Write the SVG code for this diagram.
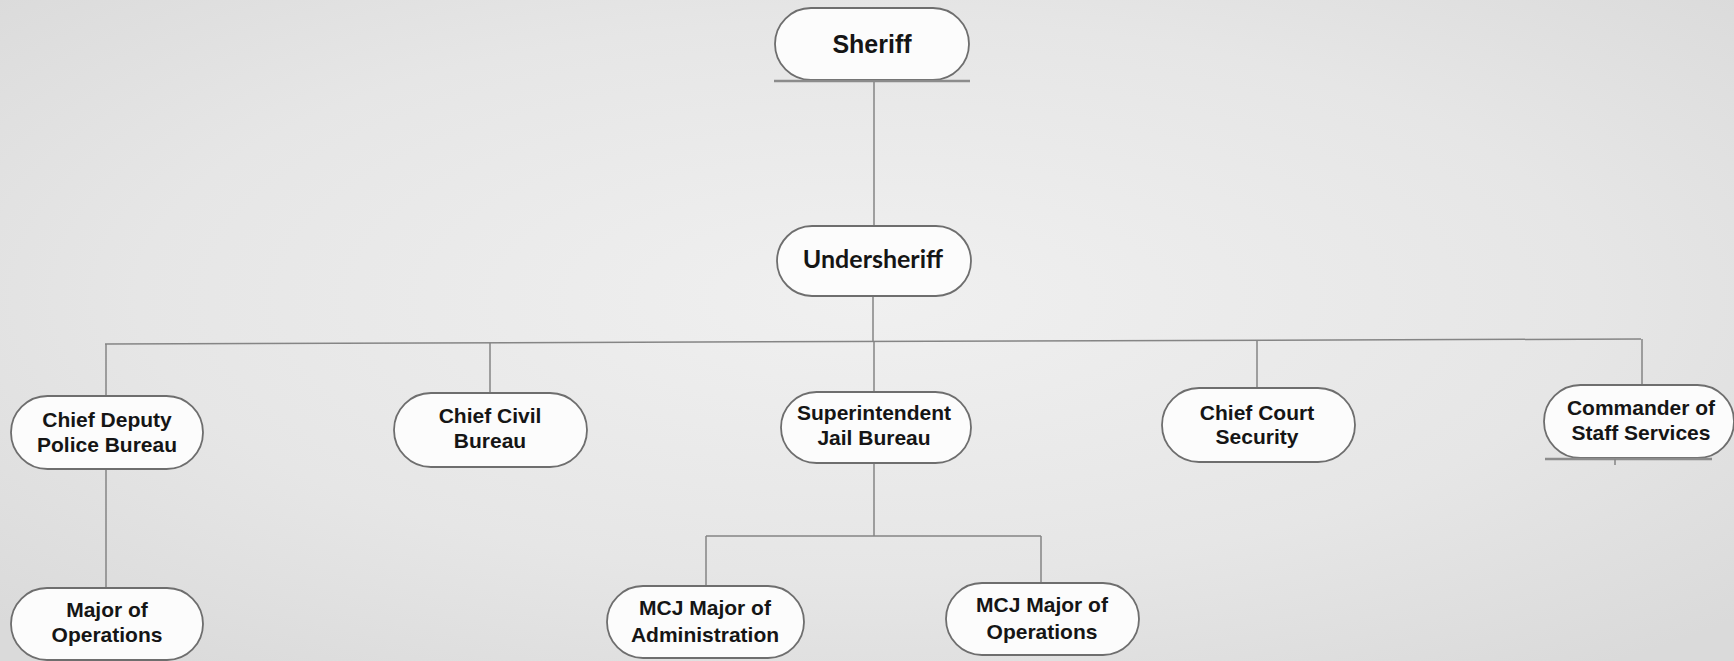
<svg xmlns="http://www.w3.org/2000/svg" width="1734" height="661" viewBox="0 0 1734 661">
<defs>
<radialGradient id="bg" cx="50%" cy="45%" r="70%">
<stop offset="0" stop-color="#f0f0f0"/>
<stop offset="0.6" stop-color="#e6e6e6"/>
<stop offset="1" stop-color="#dadada"/>
</radialGradient>
<style>
.node{fill:#fcfcfc;stroke:#6e6e6e;stroke-width:1.8}
.t{font-family:"Liberation Sans",Arial,sans-serif;font-weight:bold;font-size:21px;fill:#151515;text-anchor:middle}
.tc{font-family:Lato,"Open Sans",sans-serif;font-weight:bold;font-size:25px;fill:#151515;text-anchor:middle}
.ln{stroke:#858585;stroke-width:1.5;fill:none}
.ul{stroke:#8c8c8c;stroke-width:2.5;fill:none}
</style>
</defs>
<rect width="1734" height="661" fill="url(#bg)"/>
<g id="connectors">
<path class="ln" d="M874 81 V226"/>
<path class="ln" d="M873 296 V342"/>
<path class="ln" d="M105 344 L1641 339"/>
<path class="ln" d="M106 344 V396"/>
<path class="ln" d="M490 343 V393"/>
<path class="ln" d="M874 341 V392"/>
<path class="ln" d="M1257 340 V388"/>
<path class="ln" d="M1642 339 V385"/>
<path class="ln" d="M106 469 V588"/>
<path class="ln" d="M874 463 V536"/>
<path class="ln" d="M706 536 H1041"/>
<path class="ln" d="M706 536 V586"/>
<path class="ln" d="M1041 536 V583"/>
</g>
<g id="sheriff">
<rect class="node" x="775" y="8" width="194" height="72" rx="36"/>
<line class="ul" x1="774" y1="81" x2="970" y2="81"/>
<text class="t" x="872" y="53" style="font-size:25px">Sheriff</text>
</g>
<g id="undersheriff">
<rect class="node" x="777" y="226" width="194" height="70" rx="35"/>
<text class="tc" x="873" y="268">Undersheriff</text>
</g>
<g id="chief-deputy">
<rect class="node" x="11" y="396" width="192" height="73" rx="36.5"/>
<text class="t" x="107" y="427">Chief Deputy</text>
<text class="t" x="107" y="452">Police Bureau</text>
</g>
<g id="chief-civil">
<rect class="node" x="394" y="393" width="193" height="74" rx="37"/>
<text class="t" x="490" y="423">Chief Civil</text>
<text class="t" x="490" y="448">Bureau</text>
</g>
<g id="superintendent">
<rect class="node" x="781" y="392" width="190" height="71" rx="35.5"/>
<text class="t" x="874" y="420">Superintendent</text>
<text class="t" x="874" y="445">Jail Bureau</text>
</g>
<g id="chief-court">
<rect class="node" x="1162" y="388" width="193" height="74" rx="37"/>
<text class="t" x="1257" y="420">Chief Court</text>
<text class="t" x="1257" y="444">Security</text>
</g>
<g id="commander">
<rect class="node" x="1544" y="385" width="190" height="73" rx="36.5"/>
<line class="ul" x1="1545" y1="459" x2="1712" y2="459"/>
<line class="ln" x1="1615" y1="459" x2="1615" y2="465"/>
<text class="t" x="1641" y="415">Commander of</text>
<text class="t" x="1641" y="440">Staff Services</text>
</g>
<g id="major-operations">
<rect class="node" x="11" y="588" width="192" height="72" rx="36"/>
<text class="t" x="107" y="617">Major of</text>
<text class="t" x="107" y="642">Operations</text>
</g>
<g id="mcj-admin">
<rect class="node" x="607" y="586" width="197" height="72" rx="36"/>
<text class="t" x="705" y="615">MCJ Major of</text>
<text class="t" x="705" y="642">Administration</text>
</g>
<g id="mcj-operations">
<rect class="node" x="946" y="583" width="193" height="72" rx="36"/>
<text class="t" x="1042" y="612">MCJ Major of</text>
<text class="t" x="1042" y="639">Operations</text>
</g>
</svg>
